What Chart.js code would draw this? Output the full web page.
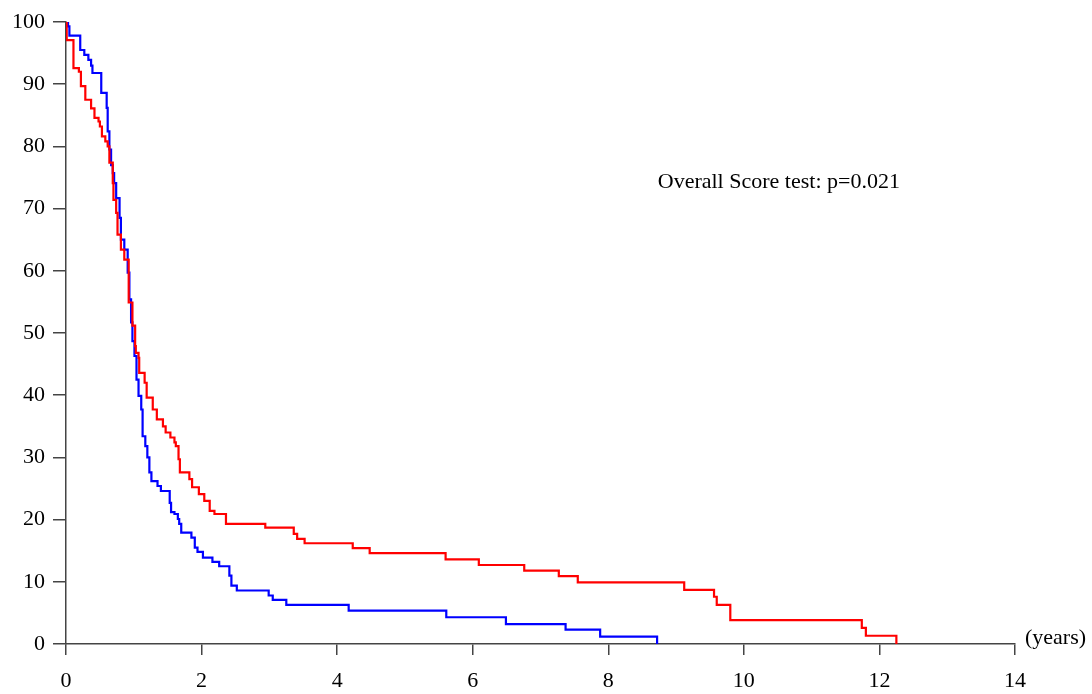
<!DOCTYPE html>
<html>
<head>
<meta charset="utf-8">
<script src="https://cdn.jsdelivr.net/npm/chart.js@4/dist/chart.umd.min.js"></script>
<style>
  html, body { margin: 0; padding: 0; background: #fff; }
  #wrap { width: 1092px; height: 694px; }
</style>
</head>
<body>
<div id="wrap"><canvas id="myChart" width="1092" height="694"></canvas></div>
<script>
// survival times (years) and % surviving
const blueTimes = [0, 0.03, 0.05, 0.21, 0.27, 0.33, 0.37, 0.39, 0.52, 0.6, 0.615, 0.64, 0.665, 0.69, 0.71, 0.74, 0.79, 0.81, 0.86, 0.91, 0.935, 0.96, 0.98, 1.01, 1.04, 1.07, 1.11, 1.13, 1.17, 1.2, 1.23, 1.26, 1.35, 1.4, 1.53, 1.55, 1.6, 1.65, 1.67, 1.7, 1.85, 1.9, 1.94, 2.02, 2.16, 2.26, 2.41, 2.44, 2.52, 2.99, 3.05, 3.25, 4.17, 5.61, 6.49, 7.37, 7.88, 8.72];
const blueSurv = [100, 99.3, 97.8, 95.5, 94.7, 93.9, 93.0, 91.8, 88.6, 86.2, 82.4, 79.5, 77, 75.7, 74.1, 71.7, 68.5, 65, 63.4, 59.7, 55.4, 51.7, 48.7, 46.3, 42.5, 39.9, 37.7, 33.4, 31.8, 30, 27.6, 26.2, 25.4, 24.6, 22.7, 21.2, 20.9, 20.1, 19.3, 17.9, 17.1, 15.5, 14.8, 13.9, 13.2, 12.5, 11.0, 9.4, 8.6, 7.8, 7.1, 6.3, 5.35, 4.3, 3.2, 2.3, 1.17, 0];

const redTimes = [0, 0.01, 0.11, 0.19, 0.22, 0.285, 0.37, 0.42, 0.48, 0.5, 0.53, 0.58, 0.615, 0.64, 0.69, 0.7, 0.74, 0.76, 0.81, 0.86, 0.925, 0.98, 1.02, 1.03, 1.07, 1.08, 1.16, 1.19, 1.28, 1.34, 1.43, 1.47, 1.54, 1.6, 1.62, 1.66, 1.68, 1.82, 1.86, 1.96, 2.04, 2.12, 2.19, 2.36, 2.94, 3.36, 3.41, 3.52, 4.23, 4.48, 5.6, 6.09, 6.76, 7.27, 7.55, 9.12, 9.56, 9.6, 9.8, 11.74, 11.8, 12.25];
const redSurv = [100, 97.1, 92.6, 92, 89.7, 87.5, 86.1, 84.6, 84, 83.2, 81.6, 80.8, 80, 77.4, 74.1, 71.4, 69.3, 65.8, 63.4, 61.8, 54.9, 51.2, 47.9, 46.8, 46, 43.6, 42, 39.6, 37.7, 36.1, 35, 34, 33.2, 32.4, 31.8, 29.7, 27.6, 26.5, 25.2, 24.1, 23, 21.4, 20.9, 19.3, 18.7, 17.7, 16.9, 16.2, 15.4, 14.6, 13.6, 12.7, 11.8, 10.9, 9.9, 8.7, 7.6, 6.3, 3.85, 2.6, 1.33, 0];

const xTicks = [0, 2, 4, 6, 8, 10, 12, 14];
const yTicks = [0, 10, 20, 30, 40, 50, 60, 70, 80, 90, 100];
const noteText = 'Overall Score test: p=0.021';
const unitText = '(years)';

const serif = "'Liberation Serif', 'Times New Roman', serif";

function toPoints(times, surv) {
  return times.map(function(t, i) { return { x: t, y: surv[i] }; });
}

// text that is not part of the axes
const extraText = {
  id: 'extraText',
  afterDraw(chart) {
    const ctx = chart.ctx;
    const xs = chart.scales.x, ys = chart.scales.y;
    ctx.save();
    ctx.fillStyle = '#000';
    ctx.font = '22px ' + serif;
    ctx.textBaseline = 'middle';
    ctx.textAlign = 'left';
    ctx.fillText(noteText, xs.getPixelForValue(8.73), ys.getPixelForValue(74.3));
    ctx.fillText(unitText, chart.chartArea.right + 10, chart.chartArea.bottom - 6);
    ctx.restore();
  }
};

const ctx = document.getElementById('myChart').getContext('2d');
new Chart(ctx, {
  type: 'line',
  data: {
    datasets: [
      {
        label: 'red',
        data: toPoints(redTimes, redSurv),
        borderColor: '#ff0000',
        borderWidth: 2.2,
        stepped: 'before',
        pointRadius: 0,
        fill: false
      },
      {
        label: 'blue',
        data: toPoints(blueTimes, blueSurv),
        borderColor: '#0000ff',
        borderWidth: 2.2,
        stepped: 'before',
        pointRadius: 0,
        fill: false
      }
    ]
  },
  options: {
    responsive: false,
    animation: false,
    layout: { padding: { left: 0, right: 77, top: 22, bottom: 0 } },
    plugins: { legend: { display: false }, tooltip: { enabled: false } },
    scales: {
      x: {
        type: 'linear',
        min: 0,
        max: 14,
        afterBuildTicks(scale) { scale.ticks = xTicks.map(v => ({ value: v })); },
        afterFit(scale) { scale.height = 50; },
        grid: { drawOnChartArea: false, drawTicks: true, tickLength: 11, color: '#444', lineWidth: 1.5 },
        border: { display: true, color: '#444', width: 1.5 },
        ticks: { color: '#000', font: { family: serif, size: 22 }, padding: 13, maxRotation: 0 }
      },
      y: {
        min: 0,
        max: 100,
        afterBuildTicks(scale) { scale.ticks = yTicks.map(v => ({ value: v })); },
        afterFit(scale) { scale.width = 66; },
        grid: { drawOnChartArea: false, drawTicks: true, tickLength: 13, color: '#444', lineWidth: 1.5 },
        border: { display: true, color: '#444', width: 1.5 },
        ticks: { color: '#000', font: { family: serif, size: 22 }, padding: 8 }
      }
    }
  },
  plugins: [extraText]
});
</script>
</body>
</html>
